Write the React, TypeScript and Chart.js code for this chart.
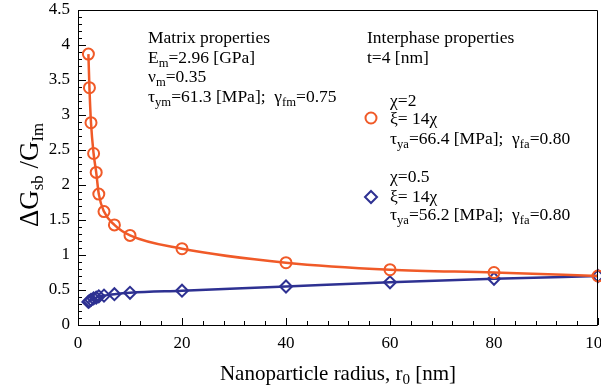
import React, { useEffect, useRef } from 'react';
import { Chart, registerables } from 'chart.js';

Chart.register(...registerables);

// ---- data ----
const radii = [2, 2.2, 2.5, 3, 3.5, 4, 5, 7, 10, 20, 40, 60, 80, 100];
const chi2Values = [3.87, 3.39, 2.89, 2.45, 2.18, 1.87, 1.62, 1.43, 1.28, 1.09, 0.89, 0.79, 0.75, 0.7];
const chi05Values = [0.33, 0.34, 0.36, 0.38, 0.39, 0.41, 0.42, 0.44, 0.46, 0.49, 0.55, 0.61, 0.66, 0.7];
const xMajorStep = 20;
const xMinorStep = 4;
const yMajorStep = 0.5;
const yMinorStep = 0.1;
const xMax = 100;
const yMax = 4.5;

const RED = '#f05a28';
const BLUE = '#2e3192';
const FONT = '"Liberation Serif", "Times New Roman", serif';

type Seg = [string, boolean];

function drawRich(ctx: CanvasRenderingContext2D, segs: Seg[], x: number, y: number, size: number, align: 'left' | 'center' = 'left', subScale = 0.72) {
  const subSize = size * subScale;
  let total = 0;
  const widths: number[] = [];
  for (const [t, sub] of segs) {
    ctx.font = `${sub ? subSize : size}px ${FONT}`;
    const w = ctx.measureText(t).width;
    widths.push(w);
    total += w;
  }
  let cx = align === 'center' ? x - total / 2 : x;
  ctx.textBaseline = 'alphabetic';
  ctx.textAlign = 'left';
  segs.forEach(([t, sub], i) => {
    ctx.font = `${sub ? subSize : size}px ${FONT}`;
    ctx.fillText(t, cx, sub ? y + size * 0.2 : y);
    cx += widths[i];
  });
}

const decorPlugin = {
  id: 'decor',
  afterDatasetsDraw(chart: any) {
    const ctx: CanvasRenderingContext2D = chart.ctx;
    const { left, right, top, bottom } = chart.chartArea;
    const xs = chart.scales.x;
    const ys = chart.scales.y;
    ctx.save();
    ctx.strokeStyle = '#000';
    ctx.lineWidth = 1;
    ctx.beginPath();
    ctx.rect(left + 0.5, top + 0.5, right - left - 1, bottom - top);
    ctx.stroke();
    // inward ticks
    ctx.beginPath();
    for (let v = 0; v <= xMax + 1e-9; v += xMinorStep) {
      const major = Math.abs(v / xMajorStep - Math.round(v / xMajorStep)) < 1e-6;
      const px = Math.round(xs.getPixelForValue(v)) + 0.5;
      ctx.moveTo(px, bottom);
      ctx.lineTo(px, bottom - (major ? 7 : 4));
    }
    for (let v = 0; v <= yMax + 1e-9; v += yMinorStep) {
      const major = Math.abs(v / yMajorStep - Math.round(v / yMajorStep)) < 1e-6;
      const py = Math.round(ys.getPixelForValue(v)) + 0.5;
      ctx.moveTo(left, py);
      ctx.lineTo(left + (major ? 8 : 4), py);
    }
    ctx.stroke();

    ctx.fillStyle = '#000';
    // axis titles
    drawRich(ctx, [['Nanoparticle radius, r', false], ['0', true], [' [nm]', false]], (left + right) / 2, 380, 21, 'center');
    ctx.save();
    ctx.translate(38, 175);
    ctx.rotate(-Math.PI / 2);
    drawRich(ctx, [['\u0394G', false], ['sb', true], [' /G', false], ['Im', true]], 0, 0, 27, 'center', 0.62);
    ctx.restore();

    // annotations
    const fs = 17.5;
    drawRich(ctx, [['Matrix properties', false]], 148, 43, fs);
    drawRich(ctx, [['E', false], ['m', true], ['=2.96 [GPa]', false]], 148, 63, fs);
    drawRich(ctx, [['\u03bd', false], ['m', true], ['=0.35', false]], 148, 82, fs);
    drawRich(ctx, [['\u03c4', false], ['ym', true], ['=61.3 [MPa];  \u03b3', false], ['fm', true], ['=0.75', false]], 148, 102, fs);

    drawRich(ctx, [['Interphase properties', false]], 367, 43, fs);
    drawRich(ctx, [['t=4 [nm]', false]], 367, 63, fs);

    drawRich(ctx, [['\u03c7=2', false]], 390, 106, fs);
    drawRich(ctx, [['\u03be= 14\u03c7', false]], 390, 124, fs);
    drawRich(ctx, [['\u03c4', false], ['ya', true], ['=66.4 [MPa];  \u03b3', false], ['fa', true], ['=0.80', false]], 390, 144, fs);

    drawRich(ctx, [['\u03c7=0.5', false]], 390, 182, fs);
    drawRich(ctx, [['\u03be= 14\u03c7', false]], 390, 202, fs);
    drawRich(ctx, [['\u03c4', false], ['ya', true], ['=56.2 [MPa];  \u03b3', false], ['fa', true], ['=0.80', false]], 390, 220, fs);

    // legend markers
    ctx.lineWidth = 2;
    ctx.strokeStyle = RED;
    ctx.beginPath();
    ctx.arc(371, 118, 5.5, 0, Math.PI * 2);
    ctx.stroke();
    ctx.strokeStyle = BLUE;
    ctx.beginPath();
    const r = 6;
    ctx.moveTo(371, 197 - r);
    ctx.lineTo(371 + r, 197);
    ctx.lineTo(371, 197 + r);
    ctx.lineTo(371 - r, 197);
    ctx.closePath();
    ctx.stroke();
    ctx.restore();
  },
};

export default function App() {
  const ref = useRef<HTMLCanvasElement | null>(null);
  useEffect(() => {
    document.body.style.margin = '0';
    const canvas = ref.current!;
    const chart = new Chart(canvas, {
      type: 'line',
      data: {
        datasets: [
          {
            label: 'chi=2',
            data: radii.map((x, i) => ({ x, y: chi2Values[i] })),
            borderColor: RED,
            backgroundColor: 'rgba(0,0,0,0)',
            borderWidth: 2.5,
            pointStyle: 'circle',
            pointRadius: 5.5,
            pointBorderWidth: 2,
            pointBorderColor: RED,
            pointBackgroundColor: 'rgba(0,0,0,0)',
            cubicInterpolationMode: 'monotone',
            clip: 12,
          } as any,
          {
            label: 'chi=0.5',
            data: radii.map((x, i) => ({ x, y: chi05Values[i] })),
            borderColor: BLUE,
            backgroundColor: 'rgba(0,0,0,0)',
            borderWidth: 2.5,
            pointStyle: 'rectRot',
            pointRadius: 6,
            pointBorderWidth: 2,
            pointBorderColor: BLUE,
            pointBackgroundColor: 'rgba(0,0,0,0)',
            cubicInterpolationMode: 'monotone',
            clip: 12,
          } as any,
        ],
      },
      options: {
        responsive: false,
        devicePixelRatio: 1,
        animation: false,
        layout: { padding: { left: 0, top: 10, right: 3, bottom: 0 }, autoPadding: false } as any,
        plugins: { legend: { display: false }, tooltip: { enabled: false } },
        scales: {
          x: {
            type: 'linear',
            min: 0,
            max: xMax,
            grid: { display: false, drawTicks: false },
            border: { display: false },
            ticks: {
              stepSize: xMajorStep,
              color: '#000',
              font: { family: FONT, size: 17 },
              padding: 8,
              maxRotation: 0,
              callback: (v: any) => String(+v),
            },
            afterFit: (s: any) => {
              s.height = 65;
              s.paddingLeft = 0;
              s.paddingRight = 0;
            },
          },
          y: {
            type: 'linear',
            min: 0,
            max: yMax,
            grid: { display: false, drawTicks: false },
            border: { display: false },
            ticks: {
              stepSize: yMajorStep,
              color: '#000',
              font: { family: FONT, size: 17 },
              padding: 8,
              callback: (v: any) => String(+v),
            },
            afterFit: (s: any) => {
              s.width = 78;
              s.paddingTop = 0;
              s.paddingBottom = 0;
            },
          },
        },
      } as any,
      plugins: [decorPlugin],
    });
    return () => chart.destroy();
  }, []);
  return (
    <div style={{ position: 'absolute', left: 0, top: 0, width: 601, height: 390, background: '#fff' }}>
      <canvas ref={ref} width={601} height={390} />
    </div>
  );
}
